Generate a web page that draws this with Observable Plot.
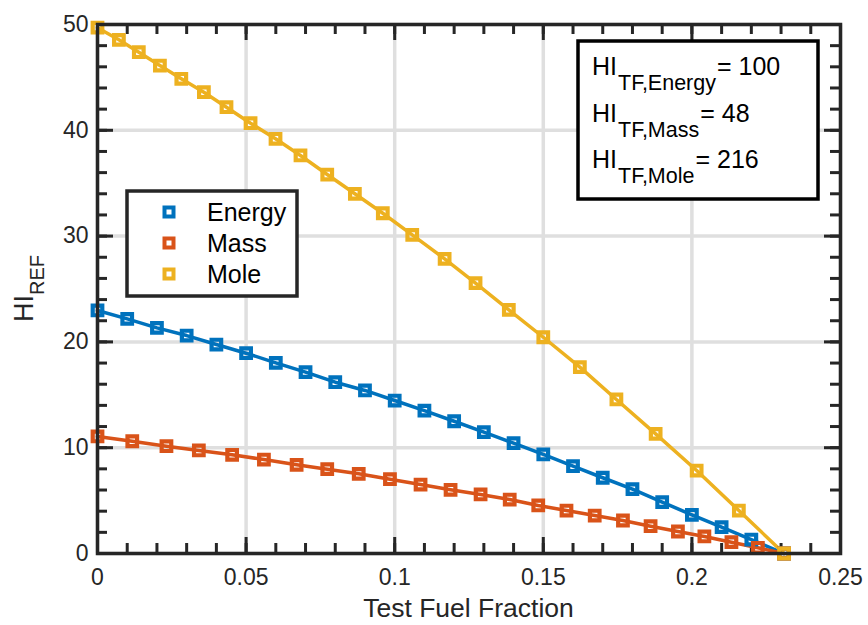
<!DOCTYPE html>
<html><head><meta charset="utf-8">
<script src="https://cdn.jsdelivr.net/npm/d3@7"></script>
<script src="https://cdn.jsdelivr.net/npm/@observablehq/plot@0.6"></script>
<style>body{margin:0;background:#fff} #chart{width:868px;height:625px}</style>
</head><body><div id="chart"></div>
<script>
// ---- data ----
const seriesNames = ["Energy", "Mass", "Mole"];
const seriesColors = ["#0072BD", "#D95319", "#EDB120"];
const fracEnergy = [0, 0.01, 0.02, 0.03, 0.04, 0.05, 0.06, 0.07, 0.08, 0.09, 0.10, 0.11, 0.12, 0.13, 0.14, 0.15, 0.16, 0.17, 0.18, 0.19, 0.20, 0.21, 0.22, 0.231];
const hiEnergy = [22.97, 22.18, 21.33, 20.60, 19.75, 18.93, 18.02, 17.14, 16.19, 15.41, 14.46, 13.50, 12.50, 11.47, 10.43, 9.36, 8.25, 7.16, 6.08, 4.85, 3.66, 2.49, 1.32, 0];
const fracMass = [0, 0.0117, 0.0232, 0.0341, 0.0453, 0.0560, 0.0670, 0.0773, 0.0879, 0.0984, 0.1087, 0.1188, 0.1289, 0.1387, 0.1483, 0.1578, 0.1673, 0.1768, 0.1861, 0.1953, 0.2042, 0.2133, 0.2222, 0.231];
const hiMass = [11.06, 10.61, 10.14, 9.74, 9.33, 8.88, 8.38, 7.97, 7.53, 7.02, 6.52, 6.02, 5.58, 5.10, 4.54, 4.06, 3.59, 3.12, 2.58, 2.08, 1.61, 1.07, 0.54, 0];
const fracMole = [0, 0.0072, 0.0139, 0.0210, 0.0282, 0.0358, 0.0434, 0.0515, 0.0599, 0.0683, 0.0773, 0.0866, 0.0960, 0.1059, 0.1168, 0.1272, 0.1384, 0.1500, 0.1623, 0.1746, 0.1878, 0.2016, 0.2158, 0.231];
const hiMole = [49.7, 48.55, 47.38, 46.12, 44.87, 43.60, 42.18, 40.67, 39.20, 37.62, 35.82, 34.00, 32.16, 30.12, 27.85, 25.55, 23.03, 20.44, 17.61, 14.56, 11.31, 7.84, 4.06, 0];
const xTicks = [0, 0.05, 0.1, 0.15, 0.2, 0.25];
const xTickLabels = ["0", "0.05", "0.1", "0.15", "0.2", "0.25"];
const yTicks = [0, 10, 20, 30, 40, 50];
const yTickLabels = ["0", "10", "20", "30", "40", "50"];
const xLabel = "Test Fuel Fraction";
const yLabelMain = "HI", yLabelSub = "REF";
const annoMain = ["HI", "HI", "HI"];
const annoSub = ["TF,Energy", "TF,Mass", "TF,Mole"];
const annoValue = ["= 100", "= 48", "= 216"];

// ---- build table ----
const fracs = [fracEnergy, fracMass, fracMole];
const his = [hiEnergy, hiMass, hiMole];
const rows = [];
seriesNames.forEach((s, k) => fracs[k].forEach((x, i) => rows.push({series: s, x, y: his[k][i]})));

const W = 868, H = 625, mL = 97, mR = 28, mT = 24, mB = 72;
const innerW = W - mL - mR, innerH = H - mT - mB;
const xMax = 0.25, yMax = 50;
const majorLen = 16, minorLen = 10;
// tick lengths expressed in data units of each scale
const xMajT = majorLen * yMax / innerH, xMinT = minorLen * yMax / innerH;
const yMajT = majorLen * xMax / innerW, yMinT = minorLen * xMax / innerW;
const ink = "#262626";
const xMinor = d3.range(0, 26).map(i => i / 100);
const yMinor = d3.range(0, 26).map(i => i * 2);
const tk = {stroke: ink, strokeWidth: 3};
const fontFamily = "'Liberation Sans', Arial, Helvetica, sans-serif";

const svg = Plot.plot({
  width: W, height: H,
  marginLeft: mL, marginRight: mR, marginTop: mT, marginBottom: mB,
  style: {fontFamily, fontSize: "23px", color: ink, background: "#fff"},
  x: {domain: [0, xMax]},
  y: {domain: [0, yMax]},
  color: {domain: seriesNames, range: seriesColors},
  marks: [
    Plot.ruleX(xTicks, {x: d => d, stroke: "#dfdfdf", strokeWidth: 3.5}),
    Plot.ruleY(yTicks, {y: d => d, stroke: "#dfdfdf", strokeWidth: 3.5}),
    // inward ticks on all four sides
    Plot.ruleX(xMinor, {x: d => d, y1: 0, y2: xMinT, ...tk}),
    Plot.ruleX(xMinor, {x: d => d, y1: yMax - xMinT, y2: yMax, ...tk}),
    Plot.ruleX(xTicks, {x: d => d, y1: 0, y2: xMajT, ...tk}),
    Plot.ruleX(xTicks, {x: d => d, y1: yMax - xMajT, y2: yMax, ...tk}),
    Plot.ruleY(yMinor, {y: d => d, x1: 0, x2: yMinT, ...tk}),
    Plot.ruleY(yMinor, {y: d => d, x1: xMax - yMinT, x2: xMax, ...tk}),
    Plot.ruleY(yTicks, {y: d => d, x1: 0, x2: yMajT, ...tk}),
    Plot.ruleY(yTicks, {y: d => d, x1: xMax - yMajT, x2: xMax, ...tk}),
    Plot.line(rows, {x: "x", y: "y", z: "series", stroke: "series", strokeWidth: 3.5}),
    Plot.dot(rows, {x: "x", y: "y", stroke: "series", symbol: "square", r: 5.4, strokeWidth: 4.2, fill: "none"}),
    Plot.frame({stroke: ink, strokeWidth: 3.5}),
    Plot.axisX(xTicks, {tickSize: 0, tickPadding: 15, tickFormat: d => xTickLabels[xTicks.indexOf(d)], fill: ink, label: null}),
    Plot.axisY(yTicks, {tickSize: 0, tickPadding: 9, tickFormat: d => yTickLabels[yTicks.indexOf(d)], fill: ink, label: null})
  ]
});

const root = d3.select(svg);
// x label
root.append("text").attr("x", mL + innerW / 2).attr("y", 617)
  .attr("text-anchor", "middle").attr("font-size", 26.5).attr("fill", ink)
  .attr("font-family", fontFamily).text(xLabel);
// y label with subscript
const yl = root.append("text").attr("transform", `translate(33,${mT + innerH / 2}) rotate(-90)`)
  .attr("text-anchor", "middle").attr("font-size", 27).attr("fill", ink).attr("font-family", fontFamily);
yl.append("tspan").text(yLabelMain);
yl.append("tspan").attr("dy", 11).attr("font-size", 20).text(yLabelSub);

// series legend
const lg = root.append("g").attr("font-family", fontFamily).attr("text-anchor", "start");
lg.append("rect").attr("x", 127).attr("y", 191).attr("width", 170).attr("height", 105)
  .attr("fill", "#fff").attr("stroke", ink).attr("stroke-width", 3.5);
seriesNames.forEach((s, i) => {
  const cy = 212 + i * 31;
  lg.append("rect").attr("x", 169 - 4.5).attr("y", cy - 4.5).attr("width", 9).attr("height", 9)
    .attr("fill", "none").attr("stroke", seriesColors[i]).attr("stroke-width", 4);
  lg.append("text").attr("x", 207).attr("y", cy).attr("dy", "0.35em").attr("font-size", 25)
    .attr("text-anchor", "start").attr("fill", "#000").text(s);
});

// annotation box
const an = root.append("g").attr("font-family", fontFamily).attr("text-anchor", "start");
an.append("rect").attr("x", 578).attr("y", 41).attr("width", 240).attr("height", 158)
  .attr("fill", "#fff").attr("stroke", "#000").attr("stroke-width", 3.5);
annoMain.forEach((m, i) => {
  const t = an.append("text").attr("x", 592).attr("y", 75 + i * 46.7).attr("font-size", 25)
    .attr("text-anchor", "start").attr("fill", "#000");
  t.append("tspan").text(m);
  t.append("tspan").attr("dy", 15).attr("dx", 1).attr("font-size", 21.5).text(annoSub[i]);
  t.append("tspan").attr("dy", -15).attr("dx", 1).text(annoValue[i]);
});

document.getElementById("chart").appendChild(svg);
</script>
</body></html>
